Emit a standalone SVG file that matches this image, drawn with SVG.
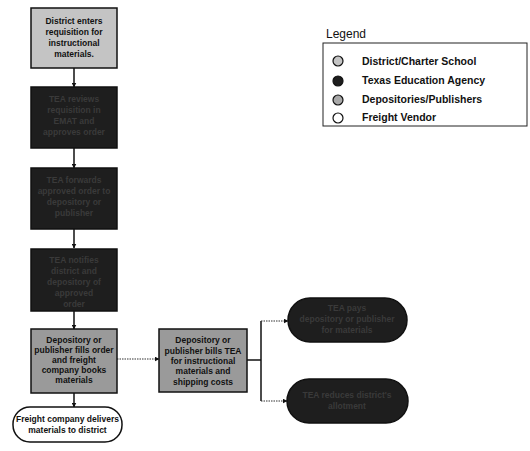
<svg xmlns="http://www.w3.org/2000/svg" width="530" height="451" viewBox="0 0 530 451">
<defs>
<marker id="ah" markerWidth="5" markerHeight="5" refX="4.5" refY="2.5" orient="auto" markerUnits="userSpaceOnUse">
<path d="M0,0 L5,2.5 L0,5 z" fill="#111"/>
</marker>
<style>
.box{stroke:#111;stroke-width:1.5}
.light{fill:#c4c4c4}
.dark{fill:#1e1e1e}
.mid{fill:#9a9a9a}
.t{font-family:"Liberation Sans",Arial,sans-serif;font-size:8.5px;font-weight:bold;text-anchor:middle;fill:#111}
.td{font-family:"Liberation Sans",Arial,sans-serif;font-size:8.5px;font-weight:bold;text-anchor:middle;fill:#3a3a3a}
.c{stroke:#111;stroke-width:1.5;fill:none}
.cd{stroke:#333;stroke-width:1.2;fill:none;stroke-dasharray:1.5 1}
.lg{font-family:"Liberation Sans",Arial,sans-serif;font-size:10.5px;font-weight:bold;fill:#111}
.lc{stroke:#111;stroke-width:1.2}
</style>
</defs>
<rect width="530" height="451" fill="#fff"/>

<g id="connectors">
<line class="c" x1="74" y1="68" x2="74" y2="87" marker-end="url(#ah)"/>
<line class="c" x1="74" y1="148" x2="74" y2="168" marker-end="url(#ah)"/>
<line class="c" x1="74" y1="229" x2="74" y2="248" marker-end="url(#ah)"/>
<line class="c" x1="74" y1="311" x2="74" y2="329" marker-end="url(#ah)"/>
<line class="c" x1="74" y1="393" x2="74" y2="407" marker-end="url(#ah)"/>
<line class="cd" x1="117" y1="359" x2="159" y2="359" marker-end="url(#ah)"/>
<polyline class="c" points="247,360 261,360"/>
<polyline class="c" points="261,321 261,401"/>
<polyline class="cd" points="261,321 288,321" marker-end="url(#ah)"/>
<polyline class="cd" points="261,401 287,401" marker-end="url(#ah)"/>
</g>

<g id="n1">
<rect class="box light" x="31" y="8" width="86" height="60"/>
<text class="t" x="74" y="24">District enters</text>
<text class="t" x="74" y="35">requisition for</text>
<text class="t" x="74" y="46">instructional</text>
<text class="t" x="74" y="57">materials.</text>
</g>

<g id="n2">
<rect class="box dark" x="31" y="87" width="86" height="61"/>
<text class="td" x="74" y="102">TEA reviews</text>
<text class="td" x="74" y="113">requisition in</text>
<text class="td" x="74" y="124">EMAT and</text>
<text class="td" x="74" y="135">approves order</text>
</g>

<g id="n3">
<rect class="box dark" x="31" y="168" width="86" height="61"/>
<text class="td" x="74" y="183">TEA forwards</text>
<text class="td" x="74" y="194">approved order to</text>
<text class="td" x="74" y="205">depository or</text>
<text class="td" x="74" y="216">publisher</text>
</g>

<g id="n4">
<rect class="box dark" x="31" y="249" width="86" height="62"/>
<text class="td" x="74" y="263">TEA notifies</text>
<text class="td" x="74" y="274">district and</text>
<text class="td" x="74" y="285">depository of</text>
<text class="td" x="74" y="296">approved</text>
<text class="td" x="74" y="307">order</text>
</g>

<g id="n5">
<rect class="box mid" x="31" y="329" width="86" height="64"/>
<text class="t" x="74" y="343">Depository or</text>
<text class="t" x="74" y="353">publisher fills order</text>
<text class="t" x="74" y="363">and freight</text>
<text class="t" x="74" y="373">company books</text>
<text class="t" x="74" y="383">materials</text>
</g>

<g id="n6">
<rect class="box mid" x="159" y="329" width="88" height="63"/>
<text class="t" x="203" y="343">Depository or</text>
<text class="t" x="203" y="354">publisher bills TEA</text>
<text class="t" x="203" y="364">for instructional</text>
<text class="t" x="203" y="374">materials and</text>
<text class="t" x="203" y="385">shipping costs</text>
</g>

<g id="n7">
<rect class="box dark" x="288" y="298" width="119" height="44" rx="22"/>
<text class="td" x="347" y="311">TEA pays</text>
<text class="td" x="347" y="322">depository or publisher</text>
<text class="td" x="347" y="333">for materials</text>
</g>

<g id="n8">
<rect class="box dark" x="287" y="379" width="121" height="44" rx="22"/>
<text class="td" x="347" y="398">TEA reduces district's</text>
<text class="td" x="347" y="409">allotment</text>
</g>

<g id="n9">
<rect class="box" fill="#fff" x="13" y="407" width="109" height="35" rx="17"/>
<text class="t" x="67.5" y="422">Freight company delivers</text>
<text class="t" x="67.5" y="433">materials to district</text>
</g>

<g id="legend">
<text x="326" y="38" font-family="'Liberation Sans',Arial,sans-serif" font-size="12px" fill="#111">Legend</text>
<rect x="323" y="43" width="204" height="83" fill="none" stroke="#222" stroke-width="1"/>
<circle class="lc" cx="338" cy="61" r="5" fill="#c4c4c4"/>
<text class="lg" x="362" y="64.5">District/Charter School</text>
<circle class="lc" cx="338" cy="81" r="5" fill="#1e1e1e"/>
<text class="lg" x="362" y="83.5">Texas Education Agency</text>
<circle class="lc" cx="338" cy="100" r="5" fill="#a8a8a8"/>
<text class="lg" x="362" y="102.5">Depositories/Publishers</text>
<circle class="lc" cx="338" cy="118" r="5" fill="#fff"/>
<text class="lg" x="362" y="120.5">Freight Vendor</text>
</g>
</svg>
